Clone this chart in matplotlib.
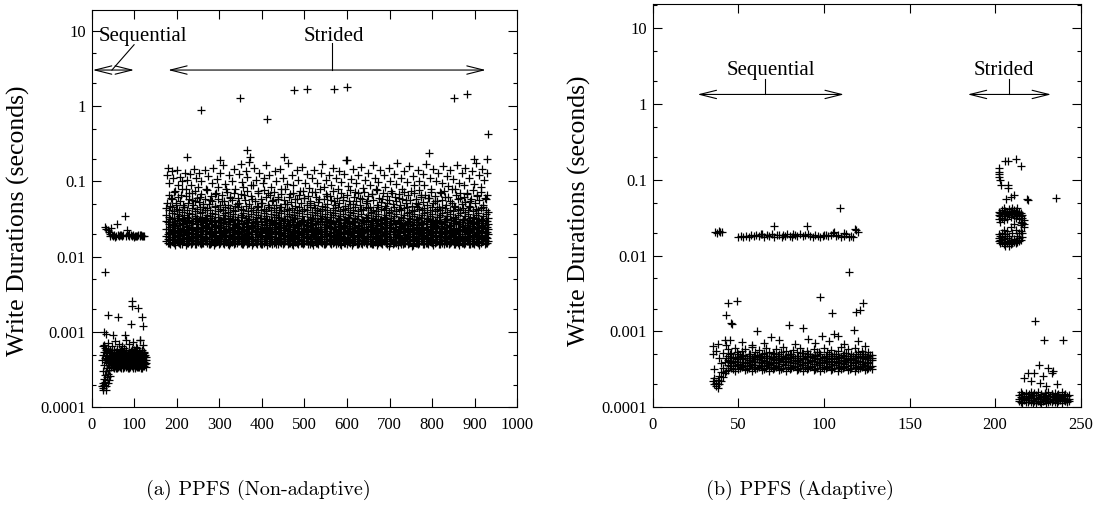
import matplotlib
matplotlib.use('Agg')
import matplotlib.pyplot as plt
from matplotlib.ticker import LogLocator, NullFormatter

plt.rcParams['font.family'] = ['Liberation Serif', 'DejaVu Serif']

# all durations below are in milliseconds; each row is (x, y1, y2, ...)

# ---- (a) non-adaptive ----
left_seq_hi = [
    (31.7, 24.5), (34, 23.5), (38, 22.5), (41, 21), (44, 20), (46, 24), (48, 19.3),
    (51, 18.9), (54, 19.4), (57, 18.7), (60, 27), (62, 19.1), (65, 18.6), (68, 19.3),
    (71, 18.8), (74, 19.5), (79, 34.4), (80, 18.9), (84.5, 22.7), (86, 19.2), (89, 18.6),
    (92, 19.1), (95, 18.8), (98, 19.3), (101, 18.7), (104, 19.0), (107, 18.6),
    (110, 19.2), (113, 18.8), (116, 19.1), (119, 18.7), (122, 19.0), (124, 18.9),
    (43, 19.0), (56, 18.4), (70, 19.6), (88, 19.7), (100, 18.3), (115, 19.6),
]
left_seq_lo = [
    (25, 0.19, 0.42), (26, 0.17, 0.30), (27, 0.21, 0.50), (28, 0.18, 0.65),
    (29, 0.24, 0.36), (30, 0.20, 0.55), (31, 0.27, 0.62), (32, 0.22, 0.45),
    (33, 0.17, 0.40), (34, 0.30, 0.58), (35, 0.19, 0.48), (36, 0.25, 0.44),
    (37, 0.33, 0.52), (38, 0.21, 0.39), (39, 0.28, 0.60), (40, 0.36, 0.47),
    (41, 0.23, 0.55), (42, 0.31, 0.42), (43, 0.40, 0.57), (44, 0.26, 0.50),
    (46, 0.34, 0.40, 0.47, 0.55), (49, 0.36, 0.43, 0.50, 0.38),
    (52, 0.33, 0.39, 0.46, 0.57), (55, 0.35, 0.42, 0.49, 0.37),
    (58, 0.38, 0.45, 0.53, 0.34), (61, 0.33, 0.41, 0.48, 0.60),
    (64, 0.36, 0.44, 0.51, 0.39), (67, 0.34, 0.40, 0.47, 0.56),
    (70, 0.37, 0.43, 0.50, 0.35), (73, 0.33, 0.39, 0.46, 0.54),
    (76, 0.35, 0.42, 0.49, 0.61), (79, 0.38, 0.45, 0.52, 0.36),
    (82, 0.34, 0.41, 0.48, 0.58), (85, 0.36, 0.43, 0.50, 0.33),
    (88, 0.33, 0.40, 0.47, 0.55), (91, 0.37, 0.44, 0.51, 0.38),
    (94, 0.35, 0.42, 0.49, 0.59), (97, 0.34, 0.39, 0.46, 0.36),
    (100, 0.36, 0.43, 0.52, 0.57), (103, 0.33, 0.41, 0.48, 0.37),
    (106, 0.35, 0.44, 0.50, 0.62), (109, 0.38, 0.42, 0.47, 0.34),
    (112, 0.34, 0.40, 0.49, 0.56), (115, 0.36, 0.45, 0.51, 0.39),
    (118, 0.33, 0.41, 0.47, 0.58), (121, 0.35, 0.43, 0.50, 0.37),
    (124, 0.37, 0.40, 0.48, 0.55), (127, 0.34, 0.42, 0.46, 0.39),
    (47.5, 0.37, 0.44, 0.52), (50.5, 0.34, 0.41, 0.49), (53.5, 0.38, 0.46, 0.35),
    (56.5, 0.33, 0.40, 0.54), (59.5, 0.36, 0.43, 0.50), (62.5, 0.39, 0.47, 0.34),
    (65.5, 0.35, 0.42, 0.52), (68.5, 0.33, 0.45, 0.57), (71.5, 0.38, 0.41, 0.48),
    (74.5, 0.36, 0.44, 0.53), (77.5, 0.34, 0.40, 0.50), (80.5, 0.37, 0.46, 0.55),
    (83.5, 0.35, 0.42, 0.49), (86.5, 0.39, 0.45, 0.34), (89.5, 0.34, 0.41, 0.52),
    (92.5, 0.36, 0.43, 0.56), (95.5, 0.38, 0.47, 0.50), (98.5, 0.33, 0.42, 0.48),
    (101.5, 0.37, 0.45, 0.54), (104.5, 0.35, 0.40, 0.51), (107.5, 0.34, 0.43, 0.57),
    (110.5, 0.38, 0.46, 0.49), (113.5, 0.36, 0.41, 0.53), (116.5, 0.33, 0.44, 0.50),
    (119.5, 0.37, 0.42, 0.55), (122.5, 0.35, 0.47, 0.52), (125.5, 0.38, 0.43, 0.49),
    (30, 0.68), (38, 0.72), (47, 0.65), (55, 0.75), (64, 0.70), (72, 0.66),
    (80, 0.78), (88, 0.69), (97, 0.73), (105, 0.64), (114, 0.79), (121, 0.67),
    (31.7, 6.25), (38, 1.7), (63, 1.6), (94.4, 2.55), (95, 2.19), (110, 2.08),
    (118, 1.6), (121.7, 1.21), (92.8, 1.28), (30, 1.0), (33, 0.93), (51, 0.92),
    (78, 0.92), (114, 0.79),
]
left_str_band = [
    (176, 16, 19, 23, 30, 36, 44), (182, 15, 18, 21, 27, 34, 41),
    (188, 17, 20, 25, 29, 38, 45), (194, 15, 17, 22, 26, 33, 40),
    (200, 16, 18, 24, 31, 37, 43), (206, 15, 19, 21, 28, 35, 42),
    (212, 14.5, 17, 23, 27, 32, 39), (218, 16, 20, 22, 30, 36, 45),
    (224, 15, 18, 25, 29, 34, 41), (230, 16, 17, 21, 26, 31, 38),
    (236, 15, 19, 24, 28, 37, 44), (242, 14.5, 18, 22, 32, 35, 40),
    (248, 16, 20, 23, 27, 33, 43), (254, 15, 17, 21, 29, 38, 46),
    (260, 15, 19, 25, 30, 34, 39), (266, 16, 18, 22, 26, 32, 42),
    (272, 15, 17, 24, 28, 36, 44), (278, 14.5, 20, 21, 31, 35, 41),
    (284, 16, 18, 23, 27, 33, 38), (290, 15, 19, 22, 29, 37, 45),
    (296, 16, 17, 25, 30, 34, 40), (302, 15, 18, 21, 26, 31, 43),
    (308, 15, 20, 24, 28, 36, 42), (314, 16, 19, 22, 32, 38, 46),
    (320, 14.5, 17, 23, 27, 33, 39), (326, 15, 18, 21, 29, 35, 44),
    (332, 16, 20, 25, 31, 37, 41), (338, 15, 17, 22, 26, 32, 40),
    (344, 16, 19, 24, 28, 34, 45), (350, 15, 18, 21, 30, 36, 43),
    (356, 14.5, 17, 23, 27, 38, 42), (362, 16, 20, 22, 29, 33, 47),
    (368, 15, 19, 25, 31, 35, 40), (374, 16, 18, 21, 26, 37, 44),
    (380, 15, 17, 24, 28, 32, 41), (386, 15, 20, 22, 30, 34, 39),
    (392, 16, 18, 23, 27, 36, 45), (398, 14.5, 19, 21, 29, 33, 42),
    (404, 15, 17, 25, 32, 38, 43), (410, 16, 18, 22, 26, 35, 40),
    (416, 15, 20, 24, 28, 31, 46), (422, 16, 19, 21, 30, 37, 41),
    (428, 15, 17, 23, 27, 34, 44), (434, 14.5, 18, 22, 29, 36, 39),
    (440, 16, 20, 25, 31, 33, 42), (446, 15, 17, 21, 26, 38, 45),
    (452, 15, 19, 24, 28, 32, 40), (458, 16, 18, 22, 30, 35, 43),
    (464, 15, 17, 23, 27, 37, 41), (470, 14.5, 20, 21, 29, 34, 44),
    (476, 16, 19, 25, 32, 36, 39), (482, 15, 18, 22, 26, 33, 42),
    (488, 16, 17, 24, 28, 38, 46), (494, 15, 20, 21, 30, 35, 40),
    (500, 15, 18, 23, 27, 31, 43), (506, 16, 19, 22, 29, 37, 41),
    (512, 14.5, 17, 25, 31, 34, 45), (518, 15, 20, 21, 26, 32, 39),
    (524, 16, 18, 24, 28, 36, 44), (530, 15, 17, 22, 30, 38, 42),
    (536, 16, 19, 23, 27, 33, 40), (542, 15, 18, 21, 29, 35, 43),
    (548, 14.5, 20, 25, 32, 37, 46), (554, 16, 17, 22, 26, 34, 41),
    (560, 15, 19, 24, 28, 31, 39), (566, 15, 18, 21, 30, 36, 44),
    (572, 16, 17, 23, 27, 38, 42), (578, 15, 20, 22, 29, 33, 45),
    (584, 14.5, 19, 25, 31, 35, 40), (590, 16, 18, 21, 26, 37, 43),
    (596, 15, 17, 24, 28, 32, 41), (602, 16, 20, 22, 30, 34, 44),
    (608, 15, 18, 23, 27, 36, 39), (614, 15, 19, 21, 29, 38, 42),
    (620, 16, 17, 25, 32, 33, 46), (626, 14.5, 18, 22, 26, 35, 40),
    (632, 15, 20, 24, 28, 37, 43), (638, 16, 19, 21, 30, 31, 41),
    (644, 15, 17, 23, 27, 34, 45), (650, 16, 18, 22, 29, 36, 44),
    (656, 15, 20, 25, 31, 38, 39), (662, 14.5, 17, 21, 26, 33, 42),
    (668, 16, 19, 24, 28, 35, 40), (674, 15, 18, 22, 30, 37, 46),
    (680, 15, 17, 23, 27, 32, 43), (686, 16, 20, 21, 29, 34, 41),
    (692, 15, 19, 25, 32, 36, 44), (698, 14, 18, 22, 26, 38, 39),
    (704, 16, 17, 24, 28, 33, 42), (710, 15, 20, 21, 30, 35, 45),
    (716, 15, 18, 23, 27, 37, 40), (722, 16, 19, 22, 29, 31, 43),
    (728, 14.5, 17, 25, 31, 34, 41), (734, 15, 18, 21, 26, 36, 44),
    (740, 16, 20, 24, 28, 38, 46), (746, 15, 17, 22, 30, 33, 39),
    (752, 14, 19, 23, 27, 35, 42), (758, 16, 18, 21, 29, 37, 40),
    (764, 15, 17, 25, 32, 32, 45), (770, 15, 20, 22, 26, 34, 43),
    (776, 16, 19, 24, 28, 36, 41), (782, 14.5, 18, 21, 30, 38, 44),
    (788, 15, 17, 23, 27, 33, 39), (794, 16, 20, 22, 29, 35, 42),
    (800, 15, 18, 25, 31, 37, 46), (806, 15, 19, 21, 26, 31, 40),
    (812, 16, 17, 24, 28, 34, 43), (818, 14.5, 18, 22, 30, 36, 41),
    (824, 15, 20, 23, 27, 38, 45), (830, 16, 19, 21, 29, 32, 44),
    (836, 15, 17, 25, 32, 35, 39), (842, 15, 18, 22, 26, 37, 42),
    (848, 16, 20, 24, 28, 33, 40), (854, 14.5, 17, 21, 30, 34, 46),
    (860, 15, 19, 23, 27, 36, 43), (866, 16, 18, 22, 29, 38, 41),
    (872, 15, 17, 25, 31, 31, 44), (878, 15, 20, 21, 26, 35, 39),
    (884, 16, 19, 24, 28, 37, 42), (890, 14.5, 18, 22, 30, 33, 45),
    (896, 15, 17, 23, 27, 34, 40), (902, 16, 20, 21, 29, 36, 43),
    (908, 15, 18, 25, 32, 38, 41), (914, 15, 19, 22, 26, 32, 44),
    (920, 16, 17, 24, 28, 35, 46), (926, 15, 18, 21, 30, 37, 42),
    (932, 16, 20, 23, 27, 33, 39),
]
left_str_band2 = [
    (179, 15.2, 17.4, 19.8, 23.1, 28.6), (185, 14.6, 16.8, 20.7, 24.5, 31.2),
    (191, 15.8, 18.3, 21.4, 22.6, 27.3), (197, 14.3, 17.1, 19.2, 25.4, 29.8),
    (203, 15.5, 16.6, 20.3, 23.8, 32.4), (209, 14.9, 18.7, 21.8, 24.2, 26.5),
    (215, 15.9, 17.8, 19.5, 22.9, 30.7), (221, 14.4, 16.9, 20.9, 25.7, 28.1),
    (227, 15.3, 18.1, 21.1, 23.4, 33.0), (233, 14.7, 17.6, 19.9, 24.8, 27.7),
    (239, 16.2, 16.7, 20.5, 22.4, 29.3), (245, 14.8, 18.5, 21.6, 25.1, 31.8),
    (251, 15.6, 17.2, 19.3, 23.6, 26.9), (257, 14.5, 18.9, 20.1, 24.0, 30.2),
    (263, 15.1, 16.5, 21.9, 22.7, 28.4), (269, 16.0, 17.9, 19.7, 25.9, 32.7),
    (275, 14.6, 18.2, 20.6, 23.3, 27.1), (281, 15.4, 17.0, 21.3, 24.6, 29.6),
    (287, 14.2, 18.6, 19.4, 22.2, 31.0), (293, 15.7, 16.8, 20.8, 25.3, 26.6),
    (299, 14.9, 17.7, 21.7, 23.9, 30.9), (305, 16.1, 18.4, 19.1, 24.4, 28.8),
    (311, 14.7, 17.3, 20.4, 22.8, 32.1), (317, 15.5, 16.6, 21.5, 25.6, 27.4),
    (323, 14.4, 18.8, 19.6, 23.5, 29.9), (329, 15.8, 17.5, 20.2, 24.1, 31.5),
    (335, 14.8, 16.9, 21.2, 22.5, 26.8), (341, 15.2, 18.0, 19.9, 25.2, 30.4),
    (347, 16.3, 17.7, 20.9, 23.7, 28.3), (353, 14.5, 18.4, 21.8, 24.9, 33.4),
    (359, 15.6, 16.7, 19.4, 22.3, 27.6), (365, 14.9, 17.9, 20.6, 25.8, 29.2),
    (371, 15.1, 18.6, 21.4, 23.2, 31.7), (377, 14.3, 17.2, 19.7, 24.7, 26.7),
    (383, 15.9, 16.5, 20.0, 22.9, 30.1), (389, 14.6, 18.3, 21.6, 25.5, 28.5),
    (395, 15.4, 17.4, 19.2, 23.6, 32.6), (401, 14.8, 18.8, 20.8, 24.3, 27.2),
    (407, 16.0, 16.9, 21.1, 22.6, 29.5), (413, 14.4, 17.8, 19.5, 25.0, 31.3),
    (419, 15.3, 18.1, 20.3, 23.4, 26.4), (425, 14.7, 17.0, 21.9, 24.6, 30.6),
    (431, 15.7, 18.5, 19.8, 22.1, 28.0), (437, 14.5, 16.6, 20.7, 25.4, 33.1),
    (443, 15.5, 17.6, 21.3, 23.8, 27.9), (449, 14.9, 18.9, 19.3, 24.5, 29.7),
    (455, 16.2, 17.3, 20.4, 22.7, 31.9), (461, 14.6, 18.2, 21.7, 25.7, 26.3),
    (467, 15.2, 16.8, 19.6, 23.0, 30.3), (473, 14.3, 17.9, 20.9, 24.8, 28.7),
    (479, 15.8, 18.6, 21.2, 22.4, 32.2), (485, 14.7, 17.1, 19.1, 25.3, 27.5),
    (491, 15.4, 16.7, 20.5, 23.9, 29.1), (497, 14.8, 18.4, 21.5, 24.2, 31.1),
    (503, 16.1, 17.7, 19.9, 22.8, 26.6), (509, 14.5, 18.0, 20.1, 25.6, 30.8),
    (515, 15.6, 16.9, 21.8, 23.3, 28.2), (521, 14.4, 18.7, 19.4, 24.0, 32.9),
    (527, 15.3, 17.5, 20.6, 22.5, 27.0), (533, 14.9, 16.6, 21.0, 25.1, 29.4),
    (539, 15.7, 18.3, 19.7, 23.5, 31.6), (545, 14.6, 17.2, 20.2, 24.7, 26.9),
    (551, 15.1, 18.8, 21.6, 22.2, 30.0), (557, 16.0, 17.4, 19.3, 25.9, 28.6),
    (563, 14.5, 16.8, 20.8, 23.7, 33.2), (569, 15.5, 18.1, 21.4, 24.4, 27.3),
    (575, 14.8, 17.8, 19.5, 22.9, 29.8), (581, 15.9, 16.5, 20.4, 25.2, 31.4),
    (587, 14.3, 18.5, 21.1, 23.1, 26.5), (593, 15.2, 17.6, 19.8, 24.9, 30.5),
    (599, 14.7, 18.2, 20.9, 22.6, 28.9), (605, 15.6, 16.7, 21.7, 25.5, 32.5),
    (611, 14.4, 17.3, 19.2, 23.4, 27.8), (617, 16.3, 18.9, 20.3, 24.1, 29.3),
    (623, 14.9, 17.0, 21.3, 22.3, 31.2), (629, 15.4, 18.4, 19.6, 25.8, 26.7),
    (635, 14.6, 16.6, 20.7, 23.6, 30.2), (641, 15.8, 17.9, 21.5, 24.5, 28.4),
    (647, 14.5, 18.6, 19.0, 22.8, 32.8), (653, 15.1, 17.2, 20.0, 25.3, 27.1),
    (659, 14.8, 16.9, 21.9, 23.2, 29.6), (665, 15.7, 18.0, 19.9, 24.3, 31.7),
    (671, 14.3, 17.7, 20.5, 22.5, 26.4), (677, 15.5, 18.8, 21.2, 25.7, 30.7),
    (683, 14.7, 16.5, 19.4, 23.8, 28.1), (689, 16.1, 17.4, 20.8, 24.6, 33.0),
    (695, 14.5, 18.3, 21.6, 22.1, 27.6), (701, 15.3, 17.1, 19.7, 25.0, 29.9),
    (707, 14.9, 16.8, 20.2, 23.3, 31.0), (713, 15.8, 18.5, 21.4, 24.8, 26.8),
    (719, 14.4, 17.6, 19.1, 22.7, 30.4), (725, 15.6, 18.1, 20.6, 25.6, 28.3),
    (731, 14.6, 16.7, 21.8, 23.0, 32.3), (737, 15.2, 17.8, 19.5, 24.2, 27.4),
    (743, 14.8, 18.9, 20.1, 22.4, 29.2), (749, 16.0, 17.3, 21.0, 25.4, 31.5),
    (755, 14.3, 16.6, 19.8, 23.7, 26.2), (761, 15.4, 18.2, 20.9, 24.0, 30.9),
    (767, 14.7, 17.5, 21.5, 22.9, 28.8), (773, 15.9, 18.7, 19.3, 25.1, 32.7),
    (779, 14.5, 16.9, 20.4, 23.5, 27.2), (785, 15.1, 17.9, 21.2, 24.7, 29.5),
    (791, 14.9, 18.4, 19.6, 22.6, 31.8), (797, 15.7, 16.5, 20.7, 25.8, 26.9),
    (803, 14.4, 17.2, 21.7, 23.1, 30.1), (809, 15.5, 18.6, 19.2, 24.4, 28.5),
    (815, 14.6, 17.0, 20.3, 22.2, 33.3), (821, 16.2, 18.0, 21.1, 25.3, 27.7),
    (827, 14.8, 16.8, 19.9, 23.9, 29.7), (833, 15.3, 17.7, 20.5, 24.5, 31.3),
    (839, 14.5, 18.8, 21.9, 22.8, 26.6), (845, 15.6, 17.4, 19.4, 25.5, 30.6),
    (851, 14.7, 16.7, 20.8, 23.4, 28.0), (857, 15.8, 18.3, 21.3, 24.1, 32.0),
    (863, 14.3, 17.6, 19.7, 22.4, 27.5), (869, 15.2, 18.5, 20.1, 25.7, 29.0),
    (875, 14.9, 16.6, 21.6, 23.6, 31.6), (881, 16.0, 17.9, 19.0, 24.9, 26.4),
    (887, 14.6, 18.1, 20.6, 22.3, 30.3), (893, 15.4, 17.1, 21.4, 25.2, 28.6),
    (899, 14.8, 16.9, 19.5, 23.7, 32.6), (905, 15.5, 18.7, 20.9, 24.3, 27.9),
    (911, 14.4, 17.5, 21.0, 22.7, 29.4), (917, 15.9, 18.2, 19.6, 25.6, 31.1),
    (923, 14.7, 16.5, 20.3, 23.2, 26.7), (929, 15.3, 17.8, 21.5, 24.6, 30.0),
]
left_str_upper = [
    (178, 120), (180, 150), (183, 95), (186, 60), (189, 135), (192, 110), (195, 75),
    (198, 52), (201, 140), (204, 88), (207, 115), (210, 65), (213, 100), (216, 48),
    (219, 130), (222, 80), (225, 105), (228, 58), (231, 125), (234, 90), (237, 70),
    (240, 145), (243, 55), (246, 112), (249, 85), (252, 130), (255, 62), (258, 100),
    (262, 50), (266, 140), (270, 78), (274, 118), (278, 56), (282, 95), (286, 150),
    (290, 68), (294, 108), (298, 84), (302, 130), (306, 54), (310, 165), (314, 92),
    (318, 72), (322, 120), (326, 60), (330, 100), (334, 145), (338, 80), (342, 50),
    (346, 125), (350, 170), (354, 98), (358, 66), (362, 135), (366, 115), (370, 180),
    (374, 90), (378, 58), (382, 150), (386, 105), (390, 75), (394, 128), (398, 52),
    (402, 95), (406, 110), (410, 165), (414, 70), (418, 120), (422, 85), (426, 56),
    (430, 135), (434, 100), (438, 62), (442, 145), (446, 80), (450, 112), (454, 50),
    (458, 92), (462, 175), (466, 68), (470, 120), (474, 88), (478, 58), (482, 140),
    (486, 104), (490, 75), (494, 155), (498, 60), (502, 96), (506, 125), (510, 82),
    (514, 52), (518, 110), (522, 140), (526, 72), (530, 95), (534, 58), (538, 130),
    (542, 170), (546, 84), (550, 105), (554, 64), (558, 120), (562, 90), (566, 150),
    (570, 55), (574, 112), (578, 78), (582, 138), (586, 98), (590, 62), (594, 125),
    (598, 190), (602, 86), (606, 50), (610, 108), (614, 145), (618, 72), (622, 95),
    (626, 120), (630, 60), (634, 155), (638, 82), (642, 104), (646, 54), (650, 130),
    (654, 90), (658, 68), (662, 165), (666, 112), (670, 76), (674, 98), (678, 140),
    (682, 58), (686, 120), (690, 84), (694, 52), (698, 150), (702, 100), (706, 70),
    (710, 125), (714, 92), (718, 175), (722, 60), (726, 110), (730, 80), (734, 135),
    (738, 56), (742, 98), (746, 160), (750, 74), (754, 118), (758, 88), (762, 52),
    (766, 140), (770, 102), (774, 66), (778, 125), (782, 90), (786, 170), (790, 60),
    (794, 112), (798, 80), (802, 145), (806, 55), (810, 100), (814, 130), (818, 72),
    (822, 95), (826, 160), (830, 62), (834, 118), (838, 86), (842, 140), (846, 52),
    (850, 108), (854, 78), (858, 165), (862, 96), (866, 60), (870, 128), (874, 88),
    (878, 150), (882, 70), (886, 112), (890, 55), (894, 135), (898, 92), (902, 175),
    (906, 66), (910, 120), (914, 84), (918, 145), (922, 104), (926, 58), (930, 130),
    (257, 880), (349, 1290), (412, 680), (476, 1630), (507, 1700), (570, 1700),
    (601, 1790), (851, 1290), (882, 1460), (932, 430), (930, 200), (224, 210),
    (365, 260), (373, 210), (793, 240), (453, 210), (601, 190), (301, 190), (898, 200),
]
left_str_mid = [
    (177, 52), (181, 66), (185, 47), (190, 58), (194, 72), (199, 49), (203, 61),
    (208, 55), (212, 78), (217, 46), (221, 63), (226, 51), (230, 69), (235, 57),
    (239, 48), (244, 74), (248, 60), (253, 53), (257, 67), (262, 46), (266, 58),
    (271, 76), (275, 50), (280, 64), (284, 55), (289, 47), (293, 70), (298, 59),
    (302, 49), (307, 66), (311, 54), (316, 79), (320, 48), (325, 62), (329, 56),
    (334, 71), (338, 47), (343, 60), (347, 52), (352, 68), (356, 85), (361, 57),
    (365, 74), (370, 50), (374, 63), (379, 90), (383, 55), (388, 47), (392, 69),
    (397, 58), (401, 51), (406, 77), (410, 61), (415, 48), (419, 65), (424, 54),
    (428, 72), (433, 49), (437, 59), (442, 46), (446, 67), (451, 56), (455, 80),
    (460, 50), (464, 62), (469, 53), (473, 70), (478, 47), (482, 58), (487, 66),
    (491, 51), (496, 75), (500, 60), (505, 48), (509, 64), (514, 55), (518, 72),
    (523, 49), (527, 61), (532, 53), (536, 78), (541, 47), (545, 59), (550, 68),
    (554, 50), (559, 63), (563, 56), (568, 74), (572, 48), (577, 60), (581, 52),
    (586, 70), (590, 57), (595, 47), (599, 65), (604, 54), (608, 76), (613, 50),
    (617, 61), (622, 55), (626, 69), (631, 48), (635, 58), (640, 72), (644, 51),
    (649, 63), (653, 46), (658, 67), (662, 56), (667, 80), (671, 49), (676, 60),
    (680, 53), (685, 71), (689, 47), (694, 64), (698, 57), (703, 75), (707, 50),
    (712, 62), (716, 54), (721, 68), (725, 48), (730, 59), (734, 73), (739, 52),
    (743, 65), (748, 56), (752, 47), (757, 70), (761, 58), (766, 50), (770, 77),
    (775, 61), (779, 53), (784, 66), (788, 48), (793, 60), (797, 72), (802, 51),
    (806, 63), (811, 55), (815, 46), (820, 69), (824, 57), (829, 74), (833, 49),
    (838, 62), (842, 54), (847, 80), (851, 47), (856, 65), (860, 58), (865, 71),
    (869, 50), (874, 61), (878, 53), (883, 68), (887, 47), (892, 59), (896, 76),
    (901, 52), (905, 64), (910, 56), (914, 72), (919, 48), (923, 60), (928, 66),
]

# ---- (b) adaptive ----
right_seq_hi = [
    (36.4, 20.5), (37.5, 20.0), (38.5, 20.8), (39.5, 20.2), (40.3, 20.6),
    (50, 17.5), (51.5, 18.0), (53, 17.8), (54.5, 18.3), (56, 17.6), (57.5, 18.5),
    (59, 17.9), (60.5, 18.8), (62, 18.2), (63.5, 19.2), (65, 17.7), (66.5, 18.6),
    (68, 18.1), (69.5, 19.0), (71, 17.8), (72.5, 18.4), (74, 18.9), (75.5, 17.6),
    (77, 18.3), (78.5, 19.3), (80, 18.0), (81.5, 17.7), (83, 18.6), (84.5, 18.2),
    (86, 19.1), (87.5, 17.9), (89, 18.5), (90.5, 19.4), (92, 18.1), (93.5, 17.8),
    (95, 18.7), (96.5, 18.3), (98, 17.6), (99.5, 18.2), (101, 18.9), (102.5, 17.9),
    (104, 18.4), (105.5, 19.6), (107, 18.0), (108.5, 18.6), (110, 17.7), (111.5, 18.3),
    (113, 19.1), (114.5, 17.8), (116, 18.2), (117, 17.6),
    (64, 19.5), (70.9, 24.5), (90.3, 24.5), (76, 18.9), (82, 19.4), (100, 18.8),
    (106, 20.5), (109.4, 42), (112, 19.8), (118, 22.7), (119, 21.5), (120, 20.5),
    (114.8, 6.14),
]
right_seq_lo = [
    (35, 0.22, 0.50, 0.65), (36, 0.20, 0.24, 0.32), (37, 0.19, 0.21, 0.55),
    (38, 0.18, 0.23, 0.69), (39, 0.20, 0.26, 0.45), (40, 0.22, 0.29, 0.38),
    (41, 0.25, 0.33, 0.52), (42, 0.28, 0.40, 0.78), (43, 0.30, 0.44, 0.66),
    (44, 0.31, 0.36, 0.42, 0.47, 0.58), (46, 0.33, 0.38, 0.40, 0.45, 0.52),
    (48, 0.30, 0.35, 0.41, 0.44, 0.61), (50, 0.32, 0.37, 0.39, 0.46, 0.50),
    (52, 0.34, 0.36, 0.43, 0.48, 0.55), (54, 0.31, 0.38, 0.40, 0.44, 0.59),
    (56, 0.33, 0.35, 0.42, 0.47, 0.51), (58, 0.30, 0.37, 0.41, 0.45, 0.63),
    (60, 0.32, 0.39, 0.43, 0.46, 0.53), (62, 0.34, 0.36, 0.40, 0.48, 0.57),
    (64, 0.31, 0.38, 0.42, 0.44, 0.50), (66, 0.33, 0.35, 0.41, 0.47, 0.60),
    (68, 0.30, 0.37, 0.39, 0.45, 0.54), (70, 0.32, 0.36, 0.43, 0.46, 0.52),
    (72, 0.34, 0.38, 0.40, 0.48, 0.58), (74, 0.31, 0.35, 0.42, 0.44, 0.51),
    (76, 0.33, 0.37, 0.41, 0.47, 0.62), (78, 0.30, 0.39, 0.43, 0.45, 0.55),
    (80, 0.32, 0.36, 0.40, 0.46, 0.50), (82, 0.34, 0.38, 0.42, 0.48, 0.57),
    (84, 0.31, 0.35, 0.41, 0.44, 0.53), (86, 0.33, 0.37, 0.39, 0.47, 0.60),
    (88, 0.30, 0.36, 0.43, 0.45, 0.52), (90, 0.32, 0.38, 0.40, 0.46, 0.56),
    (92, 0.34, 0.35, 0.42, 0.48, 0.50), (94, 0.31, 0.37, 0.41, 0.44, 0.59),
    (96, 0.33, 0.39, 0.43, 0.47, 0.54), (98, 0.30, 0.36, 0.40, 0.45, 0.51),
    (100, 0.32, 0.38, 0.42, 0.46, 0.61), (102, 0.34, 0.35, 0.41, 0.48, 0.53),
    (104, 0.31, 0.37, 0.39, 0.44, 0.57), (106, 0.33, 0.36, 0.43, 0.47, 0.50),
    (108, 0.30, 0.38, 0.40, 0.45, 0.55), (110, 0.32, 0.35, 0.42, 0.46, 0.62),
    (112, 0.34, 0.37, 0.41, 0.48, 0.52), (114, 0.31, 0.39, 0.43, 0.44, 0.58),
    (116, 0.33, 0.36, 0.40, 0.47, 0.51), (118, 0.30, 0.38, 0.42, 0.45, 0.60),
    (120, 0.32, 0.35, 0.41, 0.46, 0.54), (122, 0.34, 0.37, 0.39, 0.48, 0.56),
    (124, 0.31, 0.36, 0.43, 0.44, 0.50), (126, 0.33, 0.38, 0.40, 0.47, 0.53),
    (128, 0.32, 0.35, 0.42, 0.45, 0.49),
    (45, 0.35, 0.41, 0.50), (47, 0.32, 0.39, 0.46), (49, 0.36, 0.43, 0.53),
    (51, 0.33, 0.40, 0.47), (53, 0.35, 0.44, 0.49), (55, 0.32, 0.38, 0.45),
    (57, 0.36, 0.42, 0.51), (59, 0.34, 0.40, 0.47), (61, 0.33, 0.43, 0.49),
    (63, 0.35, 0.39, 0.46), (65, 0.32, 0.41, 0.52), (67, 0.36, 0.44, 0.48),
    (69, 0.34, 0.38, 0.45), (71, 0.33, 0.42, 0.50), (73, 0.35, 0.40, 0.47),
    (75, 0.32, 0.43, 0.53), (77, 0.36, 0.39, 0.46), (79, 0.34, 0.41, 0.49),
    (81, 0.33, 0.44, 0.51), (83, 0.35, 0.38, 0.45), (85, 0.32, 0.42, 0.48),
    (87, 0.36, 0.40, 0.52), (89, 0.34, 0.43, 0.47), (91, 0.33, 0.39, 0.50),
    (93, 0.35, 0.41, 0.46), (95, 0.32, 0.44, 0.49), (97, 0.36, 0.38, 0.53),
    (99, 0.34, 0.42, 0.45), (101, 0.33, 0.40, 0.48), (103, 0.35, 0.43, 0.51),
    (105, 0.32, 0.39, 0.47), (107, 0.36, 0.41, 0.50), (109, 0.34, 0.44, 0.46),
    (111, 0.33, 0.38, 0.49), (113, 0.35, 0.42, 0.52), (115, 0.32, 0.40, 0.45),
    (117, 0.36, 0.43, 0.48), (119, 0.34, 0.39, 0.51), (121, 0.33, 0.41, 0.47),
    (123, 0.35, 0.44, 0.50), (125, 0.32, 0.38, 0.46), (127, 0.34, 0.42, 0.49),
    (45, 0.78), (52, 0.72), (58, 0.66), (61, 1.0), (65, 0.70), (69, 0.85), (74, 0.76),
    (79.6, 1.22), (83, 0.68), (88, 1.1), (91, 0.80), (95, 0.71), (99, 0.88), (103, 0.74),
    (106, 0.92), (108, 0.86), (112, 0.69), (117.8, 1.06), (120, 0.75), (124, 0.64),
    (42.8, 1.66), (44.2, 2.39), (45.5, 1.29), (46.3, 1.25), (49.4, 2.54), (97.7, 2.85),
    (105, 1.75), (119, 1.8), (121, 1.9), (122.7, 2.4),
]
right_str = [
    (202, 141, 128, 118, 109), (203, 100), (203.4, 85), (206, 178), (207.7, 178),
    (212, 187), (215, 152), (207.7, 77, 85), (206.5, 56), (211, 63), (209, 60),
    (218.5, 56), (219.5, 54), (235.6, 58),
    (202, 30, 34, 38), (203, 28, 33, 36), (204, 31, 35, 40), (205, 29, 37, 42),
    (206, 33, 36, 39), (207, 30, 38, 35), (208, 34, 37, 41), (209, 32, 36, 39),
    (210, 35, 38, 43), (211, 33, 37, 40), (212, 31, 36, 39), (213, 34, 38, 42),
    (214, 30, 35, 37), (215, 28, 33, 36), (216, 27, 31, 34), (217, 29, 26, 24),
    (202, 19, 17, 15.5), (203, 18, 16, 14.5), (204, 20, 17.5, 15), (205, 16.5, 14, 22),
    (206, 15, 13.5, 19), (207, 17, 14.5, 21), (208, 15.5, 13.5, 18), (209, 16, 14, 24),
    (210, 15, 14.5, 20), (211, 16.5, 15, 26), (212, 15.5, 14.5, 22), (213, 16, 15, 18),
    (214, 17, 15.5, 20), (215, 16, 21, 25), (216, 17.5, 20, 27),
    (214, 0.128, 0.147, 0.121), (215, 0.118, 0.136, 0.158), (216, 0.131, 0.114, 0.152),
    (217, 0.142, 0.124, 0.133), (218, 0.119, 0.155, 0.127), (219, 0.134, 0.141, 0.116),
    (220, 0.123, 0.149, 0.137), (221, 0.139, 0.117, 0.160), (222, 0.126, 0.113, 0.144),
    (223, 0.121, 0.153, 0.132), (224, 0.145, 0.129, 0.115), (225, 0.133, 0.157, 0.122),
    (226, 0.117, 0.138, 0.127), (227, 0.143, 0.112, 0.150), (228, 0.129, 0.120, 0.140),
    (229, 0.124, 0.154, 0.135), (230, 0.146, 0.131, 0.114), (231, 0.127, 0.119, 0.161),
    (232, 0.122, 0.139, 0.130), (233, 0.148, 0.116, 0.151), (234, 0.135, 0.125, 0.143),
    (235, 0.118, 0.156, 0.128), (236, 0.144, 0.132, 0.113), (237, 0.130, 0.121, 0.149),
    (238, 0.125, 0.137, 0.134), (239, 0.141, 0.115, 0.159), (240, 0.132, 0.123, 0.146),
    (241, 0.120, 0.152, 0.128), (242, 0.140, 0.126, 0.118), (243, 0.127, 0.122, 0.145),
    (223.3, 1.39), (228.7, 0.78), (239.5, 0.78), (225.8, 0.36), (231, 0.33),
    (234, 0.30), (219, 0.28), (222.5, 0.28), (228, 0.26), (233.5, 0.28), (217, 0.24),
    (221, 0.22), (226, 0.21), (236, 0.20), (230, 0.19),
]

ytick_vals = [1e-4, 1e-3, 1e-2, 1e-1, 1, 10]
ytick_labels = ['0.0001', '0.001', '0.01', '0.1', '1', '10']


def flatten(rows):
    xs, ys = [], []
    for row in rows:
        for v in row[1:]:
            xs.append(row[0])
            ys.append(v / 1000.0)
    return xs, ys


def scatter(ax, rows):
    xs, ys = flatten(rows)
    ax.plot(xs, ys, '+', color='black', ms=6, mew=0.9)


def style(ax, xmax, xstep, ytop):
    ax.set_yscale('log')
    ax.set_xlim(0, xmax)
    ax.set_ylim(1e-4, ytop)
    ax.set_xticks(range(0, xmax + 1, xstep))
    ax.set_yticks(ytick_vals)
    ax.set_yticklabels(ytick_labels)
    ax.yaxis.set_minor_locator(LogLocator(base=10, subs=(2, 5)))
    ax.yaxis.set_minor_formatter(NullFormatter())
    ax.tick_params(which='both', direction='in', top=True, right=True,
                   labelsize=12, width=0.8)
    ax.tick_params(which='major', length=6.5)
    ax.tick_params(which='minor', length=3.2)
    ax.tick_params(axis='x', pad=7)
    ax.tick_params(axis='y', pad=4)
    for s in ax.spines.values():
        s.set_linewidth(0.8)


def double_arrow(ax, x0, x1, y):
    ax.annotate('', xy=(x1, y), xytext=(x0, y),
                arrowprops=dict(arrowstyle='<->,head_length=1.2,head_width=0.3',
                                color='black', lw=0.8, shrinkA=0, shrinkB=0,
                                mutation_scale=10))


fig = plt.figure(figsize=(10.95, 5.12), dpi=100)
W, H = 1095.0, 512.0
ax1 = fig.add_axes([91.5 / W, 1 - 407.3 / H, (517.3 - 91.5) / W, (407.3 - 10) / H])
ax2 = fig.add_axes([652.7 / W, 1 - 407.3 / H, (1080.7 - 652.7) / W, (407.3 - 4) / H])

scatter(ax1, left_seq_hi)
scatter(ax1, left_seq_lo)
scatter(ax1, left_str_band)
scatter(ax1, left_str_band2)
scatter(ax1, left_str_mid)
scatter(ax1, left_str_upper)
style(ax1, 1000, 100, 18.8)

scatter(ax2, right_seq_hi)
scatter(ax2, right_seq_lo)
scatter(ax2, right_str)
style(ax2, 250, 50, 20.7)

# annotations, panel (a)
double_arrow(ax1, 3, 100, 3.0)
ax1.plot([48, 100], [3.0, 6.5], color='black', lw=0.8)
ax1.text(16, 7.4, 'Sequential', fontsize=15, ha='left', va='baseline')
double_arrow(ax1, 180, 926, 3.0)
ax1.plot([565, 565], [3.0, 6.8], color='black', lw=0.8)
ax1.text(570, 7.4, 'Strided', fontsize=15, ha='center', va='baseline')

# annotations, panel (b)
double_arrow(ax2, 26.2, 111.7, 1.33)
ax2.plot([65.8, 65.8], [1.33, 2.1], color='black', lw=0.8)
ax2.text(69, 2.4, 'Sequential', fontsize=15, ha='center', va='baseline')
double_arrow(ax2, 184, 232.7, 1.33)
ax2.plot([208, 208], [1.33, 2.1], color='black', lw=0.8)
ax2.text(205, 2.4, 'Strided', fontsize=15, ha='center', va='baseline')

fig.text(18 / W, 1 - 221 / H, 'Write Durations (seconds)', rotation=90,
         fontsize=18.5, ha='center', va='center')
fig.text(579 / W, 1 - 211 / H, 'Write Durations (seconds)', rotation=90,
         fontsize=18.5, ha='center', va='center')

fig.text(258 / W, 1 - 490 / H, '(a) PPFS (Non-adaptive)', family='cmr10',
         fontsize=14.5, ha='center', va='center')
fig.text(800 / W, 1 - 490 / H, '(b) PPFS (Adaptive)', family='cmr10',
         fontsize=14.5, ha='center', va='center')

fig.savefig('out.png', dpi=100)
